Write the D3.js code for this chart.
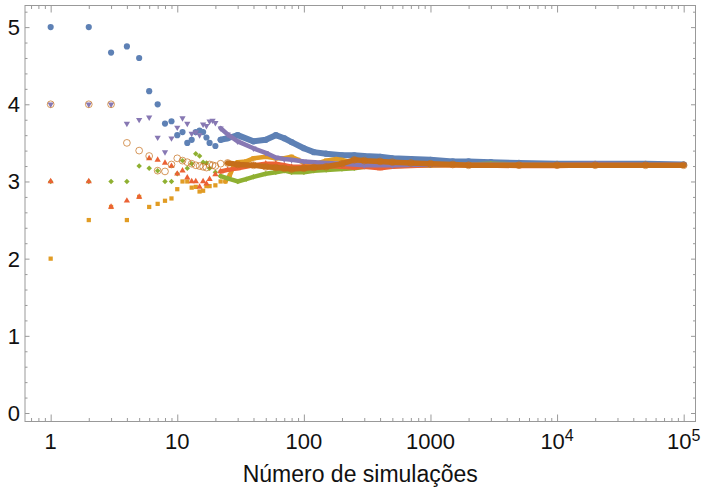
<!DOCTYPE html>
<html>
<head>
<meta charset="utf-8">
<script src="https://cdn.jsdelivr.net/npm/d3@7"></script>
<style>
  body { margin: 0; background: #fff; }
  svg { display: block; font-family: "Liberation Sans", Arial, Helvetica, sans-serif; }
</style>
</head>
<body>
<div id="chart"></div>
<script>
// running estimates vs number of simulations
var nBlue = [1,2,3,4,5,6,7,8,9,10,11,12,13,14,15,16,17,18,20,22,25,30,40,50,60,70,80,100,120,150,200,250,300,400,500,700,1000,1500,2000,3000,5000,10000,20000,50000,100000];
var vBlue = [5,5,4.67,4.75,4.6,4.17,4,3.75,3.78,3.6,3.64,3.5,3.54,3.64,3.66,3.64,3.57,3.5,3.46,3.54,3.56,3.6,3.52,3.54,3.6,3.56,3.51,3.43,3.38,3.36,3.34,3.34,3.33,3.32,3.3,3.29,3.28,3.26,3.26,3.25,3.24,3.23,3.23,3.23,3.22];

var nOrange = [1,2,3,4,5,6,7,8,9,10,11,12,13,14,15,16,17,18,20,22,24,26,28,30,35,40,50,60,70,80,90,100,120,150,180,200,250,300,500,1000,2000,5000,10000,20000,50000,100000];
var vOrange = [2,2.5,2.67,2.5,2.8,2.67,2.71,2.75,2.78,2.9,3,3,2.92,2.93,2.87,2.88,2.94,2.94,2.95,3,3,3.08,3.21,3.25,3.26,3.3,3.32,3.3,3.3,3.32,3.28,3.24,3.22,3.27,3.29,3.28,3.24,3.22,3.21,3.21,3.21,3.21,3.21,3.21,3.21,3.21];

var nGreen = [1,2,3,4,5,6,7,8,9,10,11,12,13,14,15,16,17,18,20,22,25,30,35,40,50,60,70,80,100,120,150,200,250,300,500,1000,2000,3000,5000,10000,20000,50000,100000];
var vGreen = [3,3,3,3,3.2,3.17,3.14,3,3,3.1,3.27,3.17,3.23,3.36,3.33,3.25,3.24,3.17,3.12,3.07,3.04,3,3.03,3.06,3.1,3.12,3.14,3.12,3.12,3.14,3.15,3.16,3.17,3.19,3.2,3.21,3.22,3.23,3.22,3.21,3.21,3.21,3.21];

var nRed = [1,2,3,4,5,6,7,8,9,10,11,12,13,14,15,16,17,18,20,22,25,30,40,50,60,70,80,100,120,150,200,250,300,400,500,700,1000,2000,5000,10000,20000,50000,100000];
var vRed = [3,3,2.67,2.75,2.8,3.3,3.28,3.24,3.2,3.1,3.14,3.05,3,3,2.93,3,2.97,3.03,3.09,3.13,3.15,3.17,3.21,3.23,3.23,3.21,3.19,3.19,3.19,3.2,3.19,3.18,3.19,3.17,3.19,3.2,3.21,3.21,3.2,3.2,3.21,3.21,3.21];

var nPurple = [1,2,3,4,5,6,7,8,9,10,11,12,13,14,15,16,17,18,19,20,22,25,30,40,50,60,70,80,100,150,200,300,500,1000,2000,5000,10000,20000,50000,100000];
var vPurple = [4,4,4,3.75,3.8,3.83,3.57,3.38,3.56,3.7,3.82,3.75,3.62,3.64,3.6,3.74,3.72,3.78,3.79,3.76,3.69,3.61,3.52,3.43,3.37,3.31,3.29,3.28,3.26,3.24,3.23,3.21,3.21,3.22,3.22,3.22,3.22,3.23,3.22,3.22];

var nOpen = [1,2,3,4,5,6,7,8,9,10,11,12,13,14,15,16,17,18,19,20,22,25,30,40,50,60,70,80,100,120,150,200,250,300,400,500,700,1000,1500,2000,5000,10000,20000,50000,100000];
var vOpen = [4,4,4,3.5,3.4,3.33,3.14,3.13,3.22,3.3,3.27,3.25,3.23,3.21,3.2,3.19,3.18,3.22,3.21,3.2,3.23,3.24,3.22,3.21,3.19,3.18,3.17,3.16,3.17,3.18,3.19,3.23,3.28,3.27,3.26,3.25,3.24,3.23,3.22,3.21,3.21,3.21,3.21,3.21,3.21];

var xMajor = [1, 10, 100, 1000, 10000, 100000];
var yMajor = [0, 1, 2, 3, 4, 5];

var W = 702, H = 489;
var L = 25, R = 695.5, T = 5.5, B = 421.5;
var frameColor = "#999";

var x = d3.scaleLog().domain([0.627, 1.24e5]).range([L, R]);
var y = d3.scaleLinear().domain([-0.11, 5.28]).range([B, T]);

var svg = d3.select("#chart").append("svg")
    .attr("width", W)
    .attr("height", H);

// minor tick values
var xMinor = [0.7, 0.8, 0.9];
for (var d = 0; d < 5; d++) {
    for (var k = 2; k <= 9; k++) xMinor.push(k * Math.pow(10, d));
}
var yMinor = [];
for (var i = 1; i <= 26; i++) {
    if (i % 5 != 0) yMinor.push(i * 0.2);
}

// ---------------- frame + inward ticks ----------------
svg.append("rect")
    .attr("x", L).attr("y", T)
    .attr("width", R - L).attr("height", B - T)
    .attr("fill", "none")
    .attr("stroke", frameColor)
    .attr("stroke-width", 1);

var drawTicks = function(axis, vals, size, tr) {
    svg.append("g")
        .attr("transform", tr)
        .call(axis.tickValues(vals).tickSize(-size).tickFormat(function() { return ""; }))
        .call(function(g) { g.select(".domain").remove(); g.selectAll("text").remove(); })
        .selectAll("line").attr("stroke", frameColor);
};

drawTicks(d3.axisBottom(x), xMajor, 7, "translate(0," + B + ")");
drawTicks(d3.axisBottom(x), xMinor, 3.5, "translate(0," + B + ")");
drawTicks(d3.axisTop(x), xMajor, 7, "translate(0," + T + ")");
drawTicks(d3.axisTop(x), xMinor, 3.5, "translate(0," + T + ")");
drawTicks(d3.axisLeft(y), yMajor, 4.5, "translate(" + L + ",0)");
drawTicks(d3.axisLeft(y), yMinor, 2.5, "translate(" + L + ",0)");
drawTicks(d3.axisRight(y), yMajor, 4.5, "translate(" + R + ",0)");
drawTicks(d3.axisRight(y), yMinor, 2.5, "translate(" + R + ",0)");

// ---------------- tick labels ----------------
svg.append("g").selectAll("text")
    .data(yMajor)
    .join("text")
    .attr("x", 20)
    .attr("y", function(d) { return y(d); })
    .attr("dy", "0.36em")
    .attr("text-anchor", "end")
    .attr("font-size", 22)
    .attr("fill", "#111")
    .text(function(d) { return d; });

var xl = svg.append("g").selectAll("text")
    .data(xMajor)
    .join("text")
    .attr("x", function(d) { return x(d); })
    .attr("y", 448.5)
    .attr("text-anchor", "middle")
    .attr("font-size", 22)
    .attr("fill", "#111");

xl.each(function(d) {
    var t = d3.select(this);
    if (d < 10000) {
        t.text(d);
    } else {
        t.append("tspan").text("10");
        t.append("tspan").attr("dy", -8).attr("font-size", 16).text(Math.round(Math.log10(d)));
    }
});

svg.append("text")
    .attr("x", (L + R) / 2)
    .attr("y", 482)
    .attr("text-anchor", "middle")
    .attr("font-size", 23)
    .attr("fill", "#111")
    .text("Número de simulações");

// ---------------- series ----------------
var series = [
    {n: nBlue,   v: vBlue,   color: "#5E81B5", shape: "circle", band: 6,   from: 22},
    {n: nOrange, v: vOrange, color: "#E19C24", shape: "square", band: 4.5, from: 24},
    {n: nGreen,  v: vGreen,  color: "#8FB032", shape: "diamond", band: 4.5, from: 22},
    {n: nRed,    v: vRed,    color: "#EB6235", shape: "up",     band: 4.5, from: 22},
    {n: nPurple, v: vPurple, color: "#8778B3", shape: "down",   band: 4.5, from: 22},
    {n: nOpen,   v: vOpen,   color: "#C56E1A", shape: "open",   band: 5.5, from: 25}
];

var line = d3.line()
    .x(function(d) { return x(d[0]); })
    .y(function(d) { return y(d[1]); });

series.forEach(function(s) {
    var pts = s.n.map(function(n, i) { return [n, s.v[i]]; });
    var g = svg.append("g");

    // where the markers pile up they form a solid band
    g.append("path")
        .datum(pts.filter(function(p) { return p[0] >= s.from; }))
        .attr("d", line)
        .attr("fill", "none")
        .attr("stroke", s.color)
        .attr("stroke-width", s.band)
        .attr("stroke-linejoin", "round")
        .attr("stroke-linecap", "round");

    var sym;
    var rot = 0;
    if (s.shape == "circle") sym = d3.symbol().type(d3.symbolCircle).size(30);
    else if (s.shape == "square") sym = d3.symbol().type(d3.symbolSquare).size(18);
    else if (s.shape == "diamond") { sym = d3.symbol().type(d3.symbolSquare).size(15); rot = 45; }
    else if (s.shape == "up") sym = d3.symbol().type(d3.symbolTriangle).size(17);
    else if (s.shape == "down") { sym = d3.symbol().type(d3.symbolTriangle).size(17); rot = 180; }
    else sym = d3.symbol().type(d3.symbolCircle).size(36);

    g.selectAll("path.pt")
        .data(pts)
        .join("path")
        .attr("class", "pt")
        .attr("d", sym)
        .attr("transform", function(d) {
            return "translate(" + x(d[0]) + "," + y(d[1]) + ") rotate(" + rot + ")";
        })
        .attr("fill", s.shape == "open" ? "none" : s.color)
        .attr("stroke", s.shape == "open" ? s.color : "none")
        .attr("stroke-width", 1)
        .attr("opacity", s.shape == "open" ? 0.7 : 1);
});
</script>
</body>
</html>
